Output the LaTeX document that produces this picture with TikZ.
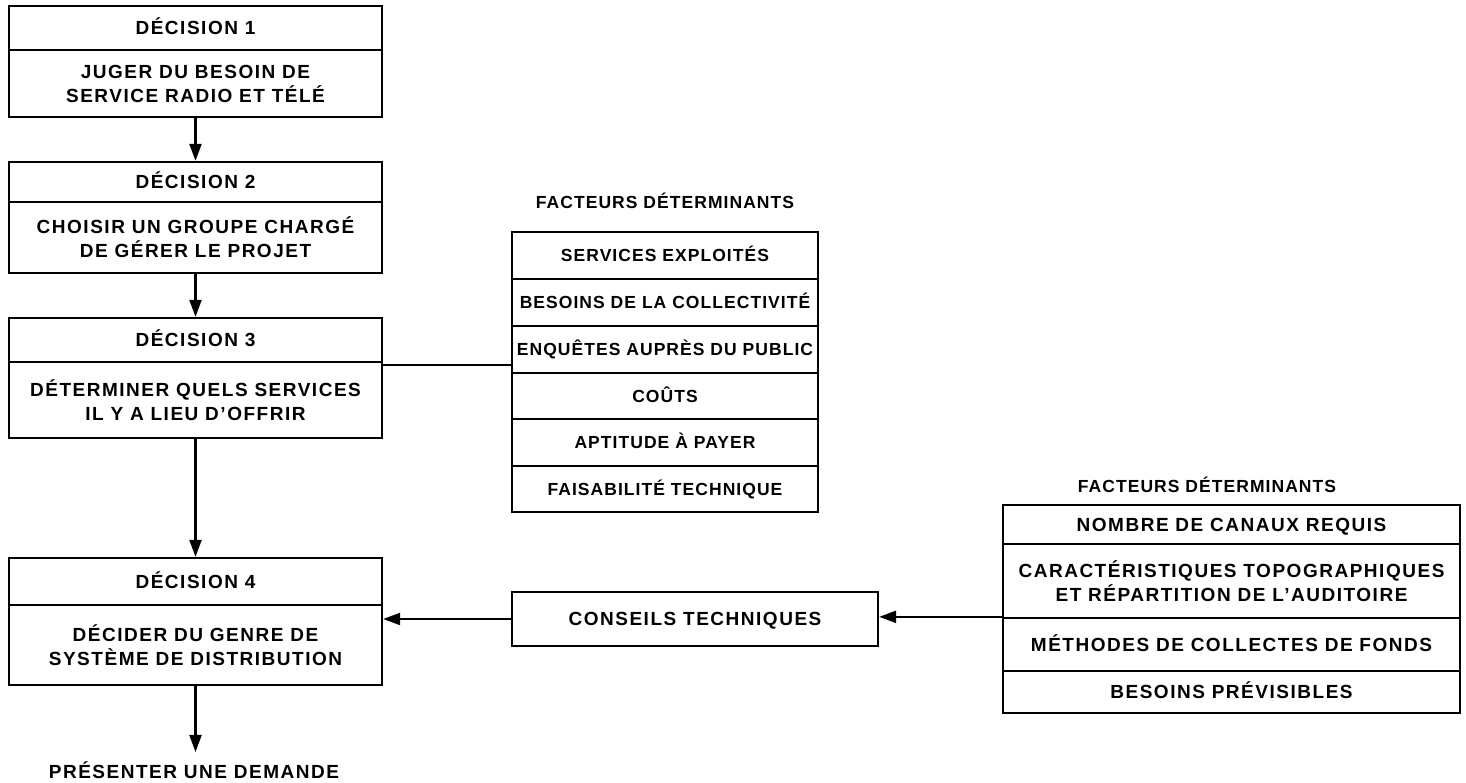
\documentclass[tikz,border=0pt]{standalone}
\usepackage{fontspec}
\setmainfont{Liberation Sans}[LetterSpace=6]
\newfontfamily\widefont{Liberation Sans}[LetterSpace=8]
\usetikzlibrary{arrows.meta}

\begin{document}
\begin{tikzpicture}[x=1pt,y=-1pt,
  lw/.style={line width=2.3pt},
  cell/.style={draw, lw, inner sep=0pt, align=center,
    font=\widefont\bfseries\fontsize{19}{24}\selectfont},
  small/.style={font=\bfseries\fontsize{17.5}{23}\selectfont},
  capline/.style={text height=13.6pt, text depth=0pt},
  capsmall/.style={text height=12.5pt, text depth=0pt},
  txt/.style={inner sep=0pt, align=center,
    font=\widefont\bfseries\fontsize{19}{24}\selectfont},
  arr/.style={lw, -{Triangle[length=17pt,width=12pt]}}]
\useasboundingbox[fill=white] (0,0) rectangle (1466,783);

% decision column
\node[cell, capline, minimum width=373pt, minimum height=44pt] (d1h) at (195.5,28) {DÉCISION 1};
\node[cell, minimum width=373pt, minimum height=67pt] (d1b) at (195.5,83.5) {JUGER DU BESOIN DE\\SERVICE RADIO ET TÉLÉ};
\node[cell, capline, minimum width=373pt, minimum height=40pt] (d2h) at (195.5,182) {DÉCISION 2};
\node[cell, minimum width=373pt, minimum height=71pt] (d2b) at (195.5,237.5) {CHOISIR UN GROUPE CHARGÉ\\DE GÉRER LE PROJET};
\node[cell, capline, minimum width=373pt, minimum height=44pt] (d3h) at (195.5,340) {DÉCISION 3};
\node[cell, minimum width=373pt, minimum height=76pt] (d3b) at (195.5,400) {DÉTERMINER QUELS SERVICES\\IL Y A LIEU D’OFFRIR};
\node[cell, capline, minimum width=373pt, minimum height=47pt] (d4h) at (195.5,581.5) {DÉCISION 4};
\node[cell, minimum width=373pt, minimum height=80pt] (d4b) at (195.5,645) {DÉCIDER DU GENRE DE\\SYSTÈME DE DISTRIBUTION};
\node[txt, inner ysep=9pt, anchor=base] (dem) at (194,778) {PRÉSENTER UNE DEMANDE};

% first list of factors
\node[txt, small] (f1t) at (665,201) {FACTEURS DÉTERMINANTS};
\node[cell, small, capsmall, minimum width=306pt, minimum height=47pt] (f1r1) at (665,255.5) {SERVICES EXPLOITÉS};
\node[cell, small, capsmall, minimum width=306pt, minimum height=47pt] (f1r2) at (665,302.5) {BESOINS DE LA COLLECTIVITÉ};
\node[cell, small, capsmall, minimum width=306pt, minimum height=47pt] (f1r3) at (665,349.5) {ENQUÊTES AUPRÈS DU PUBLIC};
\node[cell, small, capsmall, minimum width=306pt, minimum height=46pt] (f1r4) at (665,396) {COÛTS};
\node[cell, small, capsmall, minimum width=306pt, minimum height=47pt] (f1r5) at (665,442.5) {APTITUDE À PAYER};
\node[cell, small, capsmall, minimum width=306pt, minimum height=46pt] (f1r6) at (665,489) {FAISABILITÉ TECHNIQUE};

% technical advice
\node[cell, capline, minimum width=366pt, minimum height=54pt] (cons) at (695,619) {CONSEILS TECHNIQUES};

% second list of factors
\node[txt, small] (f2t) at (1207,485) {FACTEURS DÉTERMINANTS};
\node[cell, capline, minimum width=457pt, minimum height=39pt] (f2r1) at (1231.5,524.5) {NOMBRE DE CANAUX REQUIS};
\node[cell, minimum width=457pt, minimum height=74pt] (f2r2) at (1231.5,581) {CARACTÉRISTIQUES TOPOGRAPHIQUES\\ET RÉPARTITION DE L’AUDITOIRE};
\node[cell, capline, minimum width=457pt, minimum height=53pt] (f2r3) at (1231.5,644.5) {MÉTHODES DE COLLECTES DE FONDS};
\node[cell, capline, minimum width=457pt, minimum height=42pt] (f2r4) at (1231.5,692) {BESOINS PRÉVISIBLES};

% connectors
\draw[arr] (d1b.south) -- (d2h.north);
\draw[arr] (d2b.south) -- (d3h.north);
\draw[arr] (d3b.south) -- (d4h.north);
\draw[arr] (d4b.south) -- (d4b.south |- dem.north);
\draw[lw] ([yshift=-4pt]d3b.north east) -- ([yshift=-4pt]d3b.north east -| f1r3.west);
\draw[arr] (cons.west) -- (cons.west -| d4b.east);
\draw[arr] (f2r3.north west) -- (f2r3.north west -| cons.east);
\end{tikzpicture}
\end{document}
